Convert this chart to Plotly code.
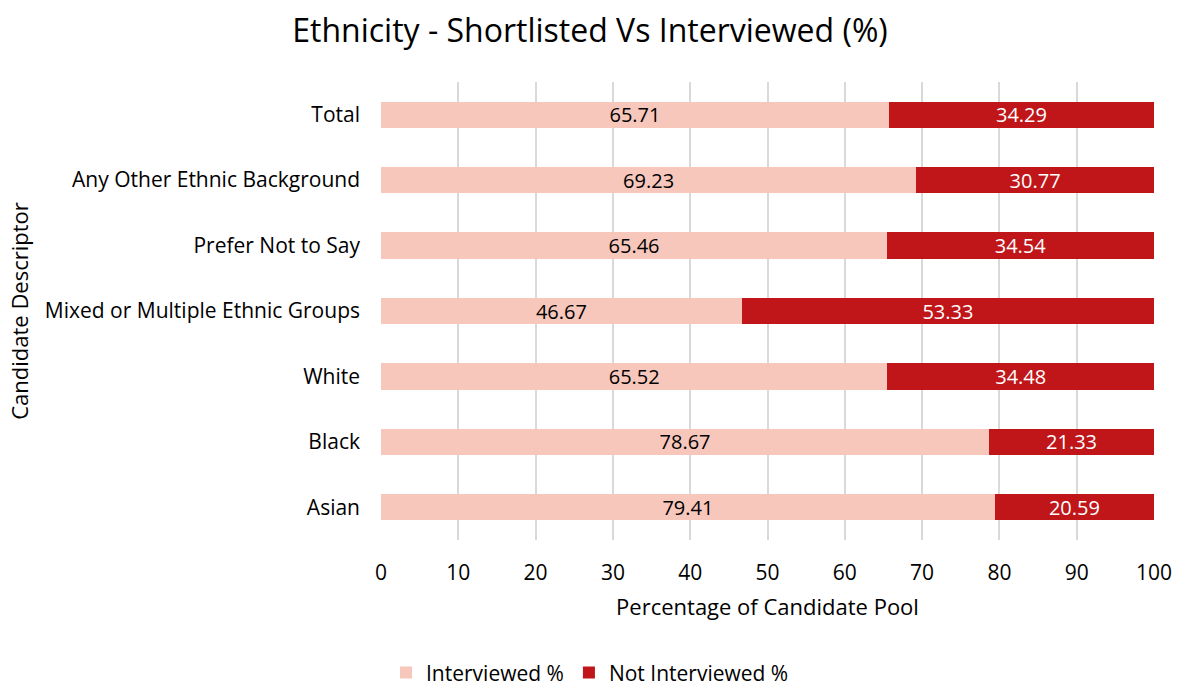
import plotly.graph_objects as go

# Candidate groups, bottom to top
categories = ["Asian", "Black", "White", "Mixed or Multiple Ethnic Groups",
              "Prefer Not to Say", "Any Other Ethnic Background", "Total"]
interviewed = [79.41, 78.67, 65.52, 46.67, 65.46, 69.23, 65.71]
not_interviewed = [20.59, 21.33, 34.48, 53.33, 34.54, 30.77, 34.29]
x_ticks = [0, 10, 20, 30, 40, 50, 60, 70, 80, 90, 100]

FONT = "'Open Sans', sans-serif"
LIGHT = "#F7C7BC"
DARK = "#C0161A"

fig = go.Figure()
fig.add_trace(go.Bar(
    y=categories, x=interviewed, orientation="h", name="Interviewed %",
    marker=dict(color=LIGHT, line=dict(width=0)),
    text=[f"{v:.2f}" for v in interviewed], textposition="inside",
    insidetextanchor="middle", constraintext="none",
    textfont=dict(color="#000000", size=20, family=FONT),
))
fig.add_trace(go.Bar(
    y=categories, x=not_interviewed, orientation="h", name="Not Interviewed %",
    marker=dict(color=DARK, line=dict(width=0)),
    text=[f"{v:.2f}" for v in not_interviewed], textposition="inside",
    insidetextanchor="middle", constraintext="none",
    textfont=dict(color="#FFFFFF", size=20, family=FONT),
))

fig.update_layout(
    barmode="stack",
    bargap=0.6,
    width=1180, height=689,
    margin=dict(l=381, r=26, t=82, b=149, autoexpand=False),
    paper_bgcolor="white", plot_bgcolor="white",
    font=dict(family=FONT, size=21, color="#000000"),
    title=dict(text="Ethnicity - Shortlisted Vs Interviewed (%)",
               x=0.5, xref="container", xanchor="center", y=0.955, yanchor="middle",
               font=dict(size=32, family=FONT, color="#000000")),
    xaxis=dict(range=[0, 100], tickvals=x_ticks, showgrid=True, gridcolor="#D9D9D9",
               gridwidth=1.5, zeroline=False, showline=False, ticks="",
               tickfont=dict(size=21), ticklabelstandoff=18,
               title=dict(text="Percentage of Candidate Pool", font=dict(size=22), standoff=14)),
    yaxis=dict(categoryorder="array", categoryarray=categories, showgrid=False,
               zeroline=False, showline=False, ticks="", tickfont=dict(size=21),
               ticklabelstandoff=20,
               title=dict(text="Candidate Descriptor", font=dict(size=22), standoff=10)),
    legend=dict(orientation="h", xref="container", x=0.5, xanchor="center",
                yref="paper", y=-0.29, yanchor="middle",
                font=dict(size=21), traceorder="normal", itemwidth=30),
)

fig.write_html("out.html")
